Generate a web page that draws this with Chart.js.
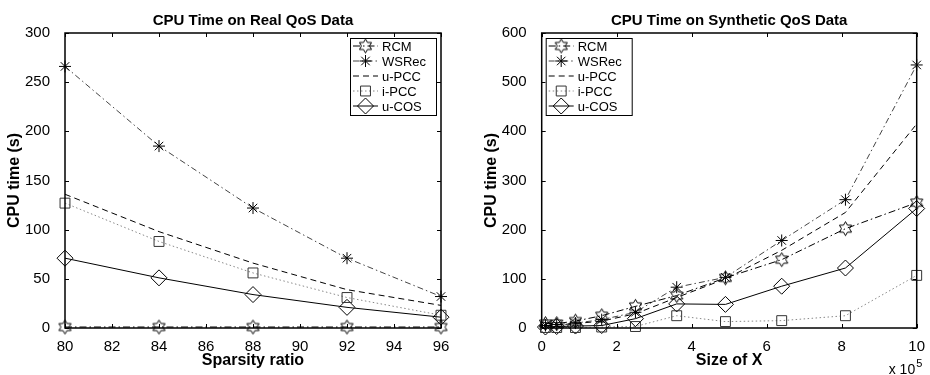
<!DOCTYPE html>
<html>
<head>
<meta charset="utf-8">
<script src="https://cdn.jsdelivr.net/npm/chart.js@4/dist/chart.umd.min.js"></script>
<style>
  body { margin: 0; background: #fff; }
  .panel { position: absolute; top: 0; width: 465px; height: 375px; }
</style>
</head>
<body>
<div class="panel" style="left:0"><canvas id="realChart" width="465" height="375"></canvas></div>
<div class="panel" style="left:465px"><canvas id="synChart" width="465" height="375"></canvas></div>
<script>
// series names, same order as in the legends
const seriesNames = ["RCM", "WSRec", "u-PCC", "i-PCC", "u-COS"];

// left: real QoS data
const sparsity = [80, 84, 88, 92, 96];
const realRCM = [1, 1, 1, 1, 1];
const realWSRec = [266, 185, 122, 71, 32];
const realUPCC = [136, 98, 66, 39, 23];
const realIPCC = [127, 88, 56, 31, 13];
const realUCOS = [71, 51, 34, 21, 11];
const sparsityTicks = [80, 82, 84, 86, 88, 90, 92, 94, 96];
const realYTicks = [0, 50, 100, 150, 200, 250, 300];

// right: synthetic QoS data (size of X in units of 10^5)
const sizeX = [0.1, 0.4, 0.9, 1.6, 2.5, 3.6, 4.9, 6.4, 8.1, 10];
const synRCM = [9, 9, 14, 25, 44, 66, 102, 139, 202, 255];
const synWSRec = [5, 7, 10, 17, 32, 83, 103, 178, 261, 535];
const synUPCC = [4, 6, 9, 14, 29, 62, 100, 158, 235, 415];
const synIPCC = [1, 1, 1, 2, 3, 25, 13, 15, 25, 107];
const synUCOS = [2, 3, 4, 5, 19, 49, 48, 85, 122, 243];
const sizeTicks = [0, 2, 4, 6, 8, 10];
const synYTicks = [0, 100, 200, 300, 400, 500, 600];

const FONT = "'Liberation Sans', Arial, Helvetica, sans-serif";

function hexagram(r) {
  const c = document.createElement("canvas");
  const s = Math.ceil(r * 2 + 3);
  c.width = c.height = s;
  const g = c.getContext("2d");
  g.strokeStyle = "#000";
  g.lineWidth = 1;
  g.beginPath();
  for (let i = 0; i < 12; i++) {
    const a = -Math.PI / 2 + i * Math.PI / 6;
    const rr = i % 2 ? r / Math.sqrt(3) : r;
    g.lineTo(s / 2 + rr * Math.cos(a), s / 2 + rr * Math.sin(a));
  }
  g.closePath();
  g.stroke();
  return c;
}

const looks = [
  { color: "#000", dash: [7, 3, 1.5, 3], point: hexagram(7), radius: 7, pointColor: "#000" },
  { color: "#444", dash: [6, 3, 1.5, 3], point: "star", radius: 6, pointColor: "#000" },
  { color: "#000", dash: [6, 4], point: "circle", radius: 0, pointColor: "#000" },
  { color: "#888", dash: [1.5, 2.5], point: "rect", radius: 7, pointColor: "#333" },
  { color: "#000", dash: [], point: "rectRot", radius: 8, pointColor: "#000" }
];

function makeSets(xs, lists) {
  return lists.map((ys, k) => ({
    label: seriesNames[k],
    data: xs.map((x, i) => ({ x: x, y: ys[i] })),
    borderColor: looks[k].color,
    borderWidth: 1,
    borderDash: looks[k].dash,
    pointStyle: looks[k].point,
    pointRadius: looks[k].radius,
    pointBorderColor: looks[k].pointColor,
    pointBackgroundColor: "rgba(0,0,0,0)",
    pointBorderWidth: 1,
    tension: 0,
    fill: false,
    clip: false
  }));
}

// frame with inward ticks, titles and a MATLAB style legend
const matlabAxes = {
  id: "matlabAxes",
  afterDraw(chart, args, o) {
    const ctx = chart.ctx;
    const a = chart.chartArea;
    const sx = chart.scales.x, sy = chart.scales.y;
    ctx.save();
    ctx.strokeStyle = "#000";
    ctx.lineWidth = 1.5;
    ctx.setLineDash([]);
    ctx.strokeRect(a.left, a.top, a.right - a.left, a.bottom - a.top);
    ctx.lineWidth = 1;
    ctx.beginPath();
    sx.ticks.forEach(t => {
      const px = Math.round(sx.getPixelForValue(t.value)) + 0.5;
      ctx.moveTo(px, a.bottom); ctx.lineTo(px, a.bottom - 4);
      ctx.moveTo(px, a.top); ctx.lineTo(px, a.top + 4);
    });
    sy.ticks.forEach(t => {
      const py = Math.round(sy.getPixelForValue(t.value)) + 0.5;
      ctx.moveTo(a.left, py); ctx.lineTo(a.left + 4, py);
      ctx.moveTo(a.right, py); ctx.lineTo(a.right - 4, py);
    });
    ctx.stroke();

    ctx.fillStyle = "#000";
    ctx.textAlign = "center";
    ctx.textBaseline = "middle";
    ctx.font = "bold 15px " + FONT;
    ctx.fillText(o.title, (a.left + a.right) / 2, a.top - 12);
    ctx.font = "bold 16px " + FONT;
    ctx.fillText(o.xTitle, (a.left + a.right) / 2, a.bottom + 33);
    ctx.save();
    ctx.translate(a.left - 50, (a.top + a.bottom) / 2);
    ctx.rotate(-Math.PI / 2);
    ctx.fillText(o.yTitle, 0, 0);
    ctx.restore();

    if (o.power) {
      ctx.font = "14px " + FONT;
      ctx.textAlign = "left";
      const base = "x 10";
      const w = ctx.measureText(base).width;
      const x0 = a.right - 28;
      ctx.fillText(base, x0, a.bottom + 42);
      ctx.font = "11px " + FONT;
      ctx.fillText(o.power, x0 + w + 1, a.bottom + 36);
    }

    // legend
    const rowH = 15, lw = 86, lh = 77;
    const lx = o.legendCorner === "nw" ? a.left + 4 : a.right - 5 - lw;
    const ly = a.top + 5;
    ctx.fillStyle = "#fff";
    ctx.fillRect(lx, ly, lw, lh);
    ctx.strokeStyle = "#000";
    ctx.lineWidth = 1;
    ctx.strokeRect(lx + 0.5, ly + 0.5, lw, lh);
    ctx.font = "13px " + FONT;
    ctx.textAlign = "left";
    chart.data.datasets.forEach((ds, k) => {
      const y = ly + 8 + k * rowH;
      ctx.strokeStyle = ds.borderColor;
      ctx.setLineDash(ds.borderDash);
      ctx.beginPath();
      ctx.moveTo(lx + 3, y);
      ctx.lineTo(lx + 28, y);
      ctx.stroke();
      ctx.setLineDash([]);
      if (ds.pointRadius > 0) {
        ctx.strokeStyle = ds.pointBorderColor;
        ctx.fillStyle = "rgba(0,0,0,0)";
        Chart.helpers.drawPoint(ctx, { pointStyle: ds.pointStyle, radius: ds.pointRadius, rotation: 0, borderWidth: 1 }, lx + 15.5, y);
      }
      ctx.fillStyle = "#000";
      ctx.fillText(ds.label, lx + 32, y + 1);
    });
    ctx.restore();
  }
};

function axisOpts(min, max, tickList, size) {
  return {
    type: "linear",
    min: min,
    max: max,
    grid: { display: false },
    border: { display: false },
    ticks: { color: "#000", font: { family: FONT, size: 15 }, padding: 5, autoSkip: false, maxRotation: 0 },
    afterBuildTicks: s => { s.ticks = tickList.map(v => ({ value: v })); },
    afterFit: s => { if (s.isHorizontal()) s.height = size; else s.width = size; }
  };
}

function makeChart(id, sets, xr, yr, yWidth, padRight, texts) {
  const xo = axisOpts(xr[0], xr[1], xr[2], 47);
  xo.ticks.padding = 2;
  const yo = axisOpts(yr[0], yr[1], yr[2], yWidth);
  yo.ticks.padding = 7;
  return new Chart(document.getElementById(id), {
    type: "line",
    data: { datasets: sets },
    options: {
      responsive: false,
      animation: false,
      devicePixelRatio: 1,
      events: [],
      layout: { padding: { top: 33, right: padRight, left: 0, bottom: 0 } },
      scales: { x: xo, y: yo },
      plugins: { legend: { display: false }, tooltip: { enabled: false }, matlabAxes: texts }
    },
    plugins: [matlabAxes]
  });
}

makeChart("realChart",
  makeSets(sparsity, [realRCM, realWSRec, realUPCC, realIPCC, realUCOS]),
  [80, 96, sparsityTicks], [0, 300, realYTicks], 65, 24,
  { title: "CPU Time on Real QoS Data", xTitle: "Sparsity ratio", yTitle: "CPU time (s)", legendCorner: "ne" });

makeChart("synChart",
  makeSets(sizeX, [synRCM, synWSRec, synUPCC, synIPCC, synUCOS]),
  [0, 10, sizeTicks], [0, 600, synYTicks], 76.7, 13.3,
  { title: "CPU Time on Synthetic QoS Data", xTitle: "Size of X", yTitle: "CPU time (s)", legendCorner: "nw", power: "5" });
</script>
</body>
</html>
